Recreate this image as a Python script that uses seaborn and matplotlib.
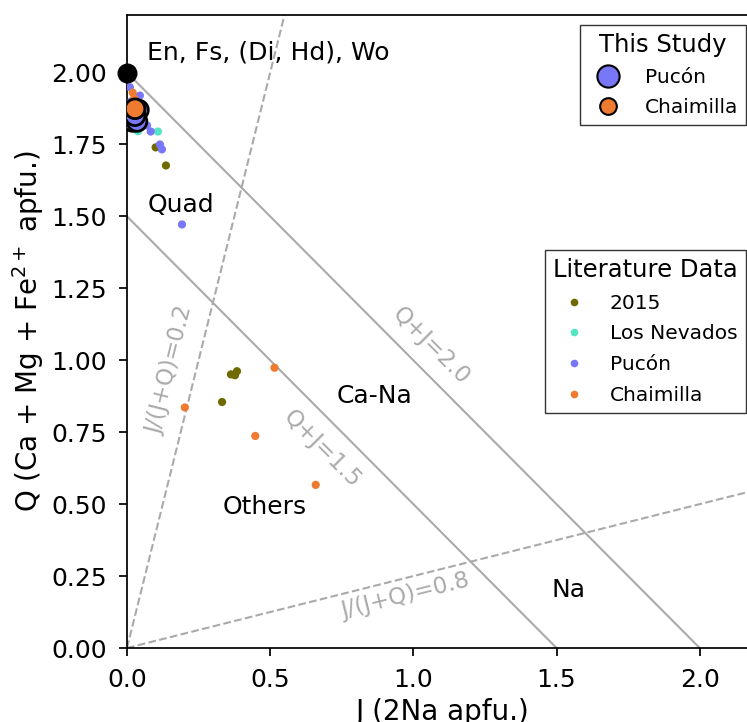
import matplotlib
matplotlib.use("Agg")
import matplotlib.pyplot as plt
from matplotlib.lines import Line2D
import numpy as np
import pandas as pd
import seaborn as sns

sns.set_style("ticks")
plt.rcParams["font.family"] = ["DejaVu Sans"]
plt.rcParams.update({
    "text.color": "black",
    "axes.labelcolor": "black",
    "axes.edgecolor": "black",
    "xtick.color": "black",
    "ytick.color": "black",
})

# Literature pyroxene compositions (J = 2Na, Q = Ca + Mg + Fe2+, apfu)
lit_2015_J = [0.363, 0.384, 0.377, 0.332, 0.100, 0.136]
lit_2015_Q = [0.951, 0.962, 0.948, 0.855, 1.740, 1.677]

lit_nevados_J = [0.108, 0.038, 0.056, 0.035, 0.045]
lit_nevados_Q = [1.795, 1.796, 1.880, 1.830, 1.860]

lit_pucon_J = [0.010, 0.045, 0.070, 0.083, 0.050, 0.115, 0.122, 0.192, 0.020, 0.030, 0.040, 0.015]
lit_pucon_Q = [1.949, 1.920, 1.816, 1.795, 1.823, 1.750, 1.733, 1.472, 1.880, 1.860, 1.840, 1.900]

lit_chaim_J = [0.515, 0.202, 0.448, 0.659, 0.020, 0.030, 0.025]
lit_chaim_Q = [0.974, 0.836, 0.737, 0.567, 1.930, 1.900, 1.910]

# This study
study_pucon_J = [0.025, 0.030, 0.020, 0.030, 0.040, 0.035, 0.028]
study_pucon_Q = [1.850, 1.840, 1.830, 1.860, 1.870, 1.830, 1.850]

study_chaim_J = [0.028]
study_chaim_Q = [1.874]

# End-member composition
end_J = [0.0]
end_Q = [2.0]

COLORS = {
    "2015": "#6f6a00",
    "Los Nevados": "#55e5c5",
    "Pucón": "#7777f7",
    "Chaimilla": "#ef7b30",
}

lit = pd.concat([
    pd.DataFrame({"J": lit_2015_J, "Q": lit_2015_Q, "src": "2015"}),
    pd.DataFrame({"J": lit_nevados_J, "Q": lit_nevados_Q, "src": "Los Nevados"}),
    pd.DataFrame({"J": lit_pucon_J, "Q": lit_pucon_Q, "src": "Pucón"}),
    pd.DataFrame({"J": lit_chaim_J, "Q": lit_chaim_Q, "src": "Chaimilla"}),
], ignore_index=True)

study = pd.concat([
    pd.DataFrame({"J": study_pucon_J, "Q": study_pucon_Q, "src": "Pucón"}),
    pd.DataFrame({"J": study_chaim_J, "Q": study_chaim_Q, "src": "Chaimilla"}),
], ignore_index=True)

W, H = 747, 722
fig = plt.figure(figsize=(W / 100, H / 100), dpi=100)
ax = fig.add_axes([127 / W, 74 / H, 630 / W, 633 / H])
ax.set_xlim(0, 2.2)
ax.set_ylim(0, 2.2)

gray = "#aaaaaa"
xs = np.array([0, 2.5])
# Field boundaries
ax.plot([0, 2.0], [2.0, 0], color=gray, lw=1.5, zorder=1)
ax.plot([0, 1.5], [1.5, 0], color=gray, lw=1.5, zorder=1)
ax.plot(xs, 4 * xs, color=gray, lw=1.5, ls="--", zorder=1)
ax.plot(xs, xs / 4, color=gray, lw=1.5, ls="--", zorder=1)

sns.scatterplot(data=lit, x="J", y="Q", hue="src", palette=COLORS, s=35,
                edgecolor="none", legend=False, ax=ax, zorder=3)
sns.scatterplot(data=study, x="J", y="Q", hue="src", palette=COLORS, s=200,
                edgecolor="black", linewidth=2, legend=False, ax=ax, zorder=4)
ax.scatter(end_J, end_Q, s=180, color="black", zorder=5, clip_on=False)

tfs = 18
ax.text(0.07, 2.07, "En, Fs, (Di, Hd), Wo", fontsize=tfs, va="center", ha="left")
ax.text(0.19, 1.54, "Quad", fontsize=tfs, va="center", ha="center")
ax.text(0.866, 0.875, "Ca-Na", fontsize=tfs, va="center", ha="center")
ax.text(0.48, 0.49, "Others", fontsize=tfs, va="center", ha="center")
ax.text(1.54, 0.2, "Na", fontsize=tfs, va="center", ha="center")
gfs = 16.5
ax.text(1.06, 1.05, "Q+J=2.0", fontsize=gfs, color=gray, rotation=-45,
        va="center", ha="center", rotation_mode="anchor")
ax.text(0.68, 0.69, "Q+J=1.5", fontsize=gfs, color=gray, rotation=-45,
        va="center", ha="center", rotation_mode="anchor")
ax.text(0.15, 0.965, "J/(J+Q)=0.2", fontsize=gfs, color=gray, rotation=76,
        va="center", ha="center", rotation_mode="anchor")
ax.text(0.97, 0.18, "J/(J+Q)=0.8", fontsize=gfs, color=gray, rotation=14,
        va="center", ha="center", rotation_mode="anchor")

ax.set_xticks([0, 0.5, 1.0, 1.5, 2.0])
ax.set_yticks(np.arange(0, 2.01, 0.25))
ax.set_xticklabels(["0.0", "0.5", "1.0", "1.5", "2.0"])
ax.set_yticklabels([f"{v:.2f}" for v in np.arange(0, 2.01, 0.25)])
ax.tick_params(labelsize=18, width=1.25, length=6, pad=8.5)
for sp in ax.spines.values():
    sp.set_linewidth(1.25)
    sp.set_visible(True)
ax.set_xlabel("J (2Na apfu.)", fontsize=20)
ax.set_ylabel("Q (Ca + Mg + Fe$^{2+}$ apfu.)", fontsize=20)

study_handles = [
    Line2D([], [], ls="", marker="o", markersize=16, markerfacecolor=COLORS["Pucón"],
           markeredgecolor="black", markeredgewidth=1.5, label="Pucón"),
    Line2D([], [], ls="", marker="o", markersize=12, markerfacecolor=COLORS["Chaimilla"],
           markeredgecolor="black", markeredgewidth=1.5, label="Chaimilla"),
]
leg1 = fig.legend(handles=study_handles, title="This Study", loc="upper right",
                  bbox_to_anchor=(746 / W, 1 - 25 / H), fontsize=14.5, title_fontsize=17.5,
                  fancybox=False, edgecolor="#333333", framealpha=1, borderaxespad=0,
                  labelspacing=0.55)
lit_handles = [
    Line2D([], [], ls="", marker="o", markersize=5.5, markerfacecolor=COLORS[k],
           markeredgecolor="none", label=k)
    for k in ["2015", "Los Nevados", "Pucón", "Chaimilla"]
]
leg2 = fig.legend(handles=lit_handles, title="Literature Data", loc="upper right",
                  bbox_to_anchor=(746 / W, 1 - 250 / H), fontsize=14.5, title_fontsize=17.5,
                  fancybox=False, edgecolor="#333333", framealpha=1, borderaxespad=0,
                  labelspacing=0.58)

fig.savefig("out.png", dpi=100)
